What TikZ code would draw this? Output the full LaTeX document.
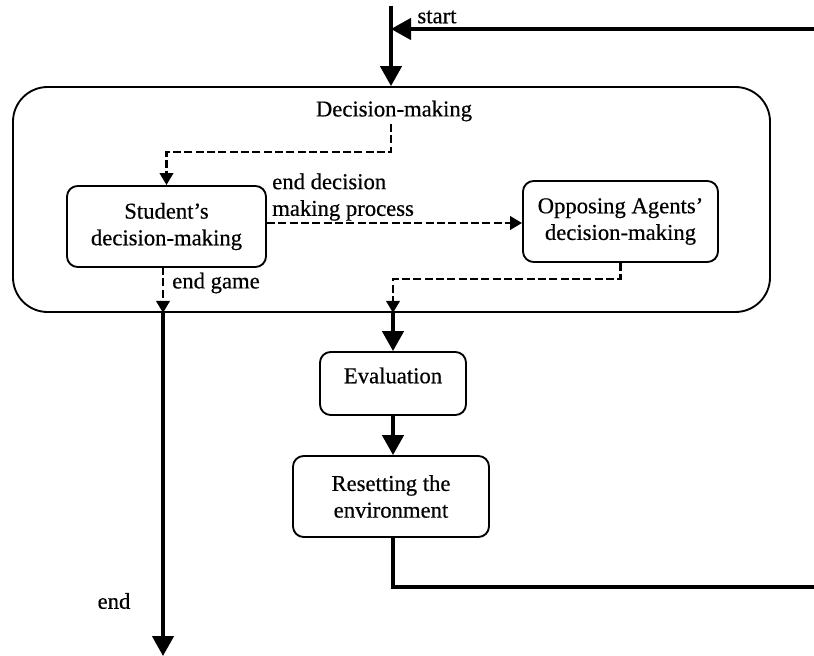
\documentclass[tikz,border=0pt]{standalone}
\usepackage{fontspec}
\setmainfont{Liberation Serif}[UprightFeatures={FakeBold=0.5}]
\usetikzlibrary{arrows.meta,fit,calc}
\begin{document}
\begin{tikzpicture}[x=0.75pt,y=-0.75pt,
  font=\fontsize{17}{20}\selectfont,
  box/.style={draw,line width=1.4pt,rounded corners=8pt,inner sep=0pt,align=center},
  bigbox/.style={draw,line width=1.4pt,rounded corners=26pt,inner sep=0pt},
  mainline/.style={line width=2.6pt},
  mainarrow/.style={line width=2.6pt,-{Triangle[length=15pt,width=16pt]}},
  dasharrow/.style={line width=2pt,dash pattern=on 6pt off 2.5pt,-{Triangle[length=9pt,width=10pt]}},
  lbl/.style={inner sep=0pt,align=left}]
\useasboundingbox (0,0) rectangle (814,656);
% boxes
\node[bigbox,fit={(13,87) (770,312)}] (dm) {};
\node[lbl] (dml) at (394,111) {Decision-making};
\node[box,fit={(67,186) (266,267)}] (s) {};
\node[align=center,inner sep=0pt] (st) at (s.center) {Student's\\decision-making};
\node[box,fit={(523,181) (718,262)}] (o) {};
\node[align=center,inner sep=0pt] (ot) at (o.center) {Opposing Agents'\\decision-making};
\node[box,fit={(320,352) (466,415)}] (ev) {};
\node[inner sep=0pt] (evt) at ($(ev.center)+(0,-8)$) {Evaluation};
\node[box,fit={(293,456) (489,537)}] (rs) {};
\node[align=center,inner sep=0pt] (rst) at (rs.center) {Resetting the\\environment};
% coordinates
\coordinate (top) at (391,6);
\coordinate (ret) at (814,29);
\coordinate (d1) at (391,124);
\coordinate (ret2) at (814,587);
\coordinate (endpt) at (163,656);
\coordinate (eg) at (163,267);
% labels
\node[lbl] (startl) at (437,17) {start};
\node[lbl,anchor=south west] (edl) at (272,221) {end decision\\making process};
\node[lbl] (egl) at (216,283) {end game};
\node[lbl] (endl) at (114,601) {end};
% connectors
\draw[mainarrow] (top) -- (top |- dm.north);
\draw[mainarrow] (ret) -- (ret -| top);
\draw[dasharrow] (d1) -- (391,152) -| (s.north);
\draw[dasharrow] (s.east |- 0,223) -- (o.west |- 0,223);
\draw[dasharrow] (o.south) -- ++(0,16) -| (ev.north |- dm.south);
\draw[mainarrow] (ev.north |- dm.south) -- (ev.north);
\draw[mainarrow] (ev.south) -- (ev.south |- rs.north);
\draw[mainline] (ev.south |- rs.south) |- (ret2);
\draw[dasharrow] (eg) -- (eg |- dm.south);
\draw[mainarrow] (eg |- dm.south) -- (endpt);
\end{tikzpicture}
\end{document}
